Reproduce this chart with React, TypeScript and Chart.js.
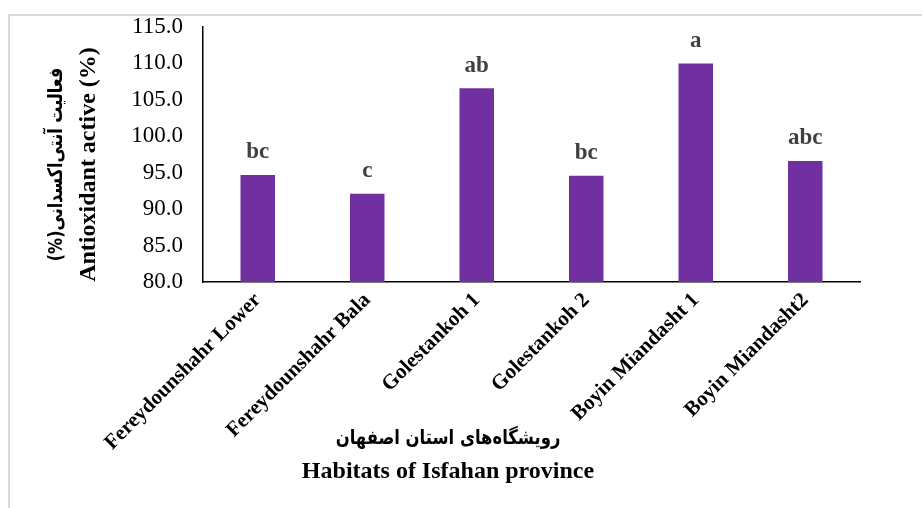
import React, { useEffect, useRef } from "react";
import { Chart, registerables } from "chart.js";

Chart.register(...registerables);

const categories = [
  "Fereydounshahr Lower",
  "Fereydounshahr Bala",
  "Golestankoh 1",
  "Golestankoh 2",
  "Boyin Miandasht 1",
  "Boyin Miandasht2",
];
const values = [94.7, 92.1, 106.6, 94.6, 110.0, 96.6];
const letters = ["bc", "c", "ab", "bc", "a", "abc"];
const yTitleFa = "فعالیت آنتی‌اکسدانی(%)";
const yTitleEn = "Antioxidant active (%)";
const xTitleFa = "رویشگاه‌های استان اصفهان";
const xTitleEn = "Habitats of Isfahan province";

const SERIF = "'Liberation Serif', 'Times New Roman', 'DejaVu Sans', serif";

const labelsPlugin = {
  id: "letters",
  afterDatasetsDraw(chart: any) {
    const ctx = chart.ctx;
    const meta = chart.getDatasetMeta(0);
    ctx.save();
    ctx.font = `bold 23px ${SERIF}`;
    ctx.fillStyle = "#404040";
    ctx.textAlign = "center";
    ctx.textBaseline = "bottom";
    meta.data.forEach((bar: any, i: number) => {
      ctx.fillText(letters[i], bar.x, bar.y - 11);
    });
    ctx.restore();
  },
};

const titlesPlugin = {
  id: "titles",
  afterDraw(chart: any) {
    const ctx = chart.ctx;
    const area = chart.chartArea;
    ctx.save();
    const cy = (area.top + area.bottom) / 2 + 10;
    // Persian y title
    ctx.save();
    ctx.translate(47, cy);
    ctx.rotate(-Math.PI / 2);
    ctx.scale(0.8, 1);
    ctx.textAlign = "center";
    ctx.textBaseline = "middle";
    ctx.fillStyle = "#000";
    ctx.font = `bold 20px 'DejaVu Sans', sans-serif`;
    ctx.direction = "rtl";
    ctx.fillText(yTitleFa, 0, 0);
    ctx.restore();
    // English y title
    ctx.save();
    ctx.translate(79, cy);
    ctx.rotate(-Math.PI / 2);
    ctx.textAlign = "center";
    ctx.textBaseline = "middle";
    ctx.fillStyle = "#000";
    ctx.font = `bold 24px ${SERIF}`;
    ctx.fillText(yTitleEn, 0, 0);
    ctx.restore();
    // Persian x title
    ctx.save();
    ctx.translate(438, 423);
    ctx.scale(0.82, 1);
    ctx.textAlign = "center";
    ctx.textBaseline = "middle";
    ctx.fillStyle = "#000";
    ctx.direction = "rtl";
    ctx.font = `bold 20px 'DejaVu Sans', sans-serif`;
    ctx.fillText(xTitleFa, 0, 0);
    ctx.restore();
    // English x title
    ctx.textAlign = "center";
    ctx.textBaseline = "middle";
    ctx.fillStyle = "#000";
    ctx.font = `bold 24px ${SERIF}`;
    ctx.fillText(xTitleEn, 438, 456);
    ctx.restore();
  },
};

export default function App() {
  const ref = useRef<HTMLCanvasElement | null>(null);
  useEffect(() => {
    if (!ref.current) return;
    const chart = new Chart(ref.current, {
      type: "bar",
      data: {
        labels: categories,
        datasets: [
          {
            data: values,
            backgroundColor: "#7030A0",
            categoryPercentage: 1,
            barPercentage: 0.315,
          },
        ],
      },
      options: {
        animation: false,
        responsive: false,
        maintainAspectRatio: false,
        layout: { padding: { top: 11, right: 62, left: 0, bottom: 0 } },
        plugins: {
          legend: { display: false },
          tooltip: { enabled: false },
        },
        scales: {
          x: {
            grid: { display: false, drawTicks: false },
            border: { display: true, color: "#000", width: 1.5 },
            ticks: {
              color: "#000",
              font: { family: SERIF, size: 21, weight: "bold" },
              minRotation: 45,
              maxRotation: 45,
              padding: 6,
              autoSkip: false,
            },
            afterFit(scale: any) {
              scale.height = 226;
              scale.paddingLeft = 0;
              scale.paddingRight = 0;
            },
          },
          y: {
            min: 80,
            max: 115,
            grid: { display: false, drawTicks: false },
            border: { display: true, color: "#000", width: 1.5 },
            ticks: {
              stepSize: 5,
              color: "#000",
              font: { family: SERIF, size: 23 },
              padding: 20,
              callback: (v: any) => Number(v).toFixed(1),
            },
            afterFit(scale: any) {
              scale.width = 193;
              scale.paddingTop = 0;
              scale.paddingBottom = 0;
            },
          },
        },
      },
      plugins: [labelsPlugin, titlesPlugin],
    });
    return () => chart.destroy();
  }, []);
  return (
    <div
      style={{
        position: "absolute",
        left: 8,
        top: 14,
        width: 914,
        height: 494,
        borderTop: "2px solid #d9d9d9",
        borderLeft: "2px solid #d9d9d9",
        boxSizing: "border-box",
        background: "#fff",
      }}
    >
      <canvas ref={ref} width={912} height={492} style={{ display: "block" }} />
    </div>
  );
}
